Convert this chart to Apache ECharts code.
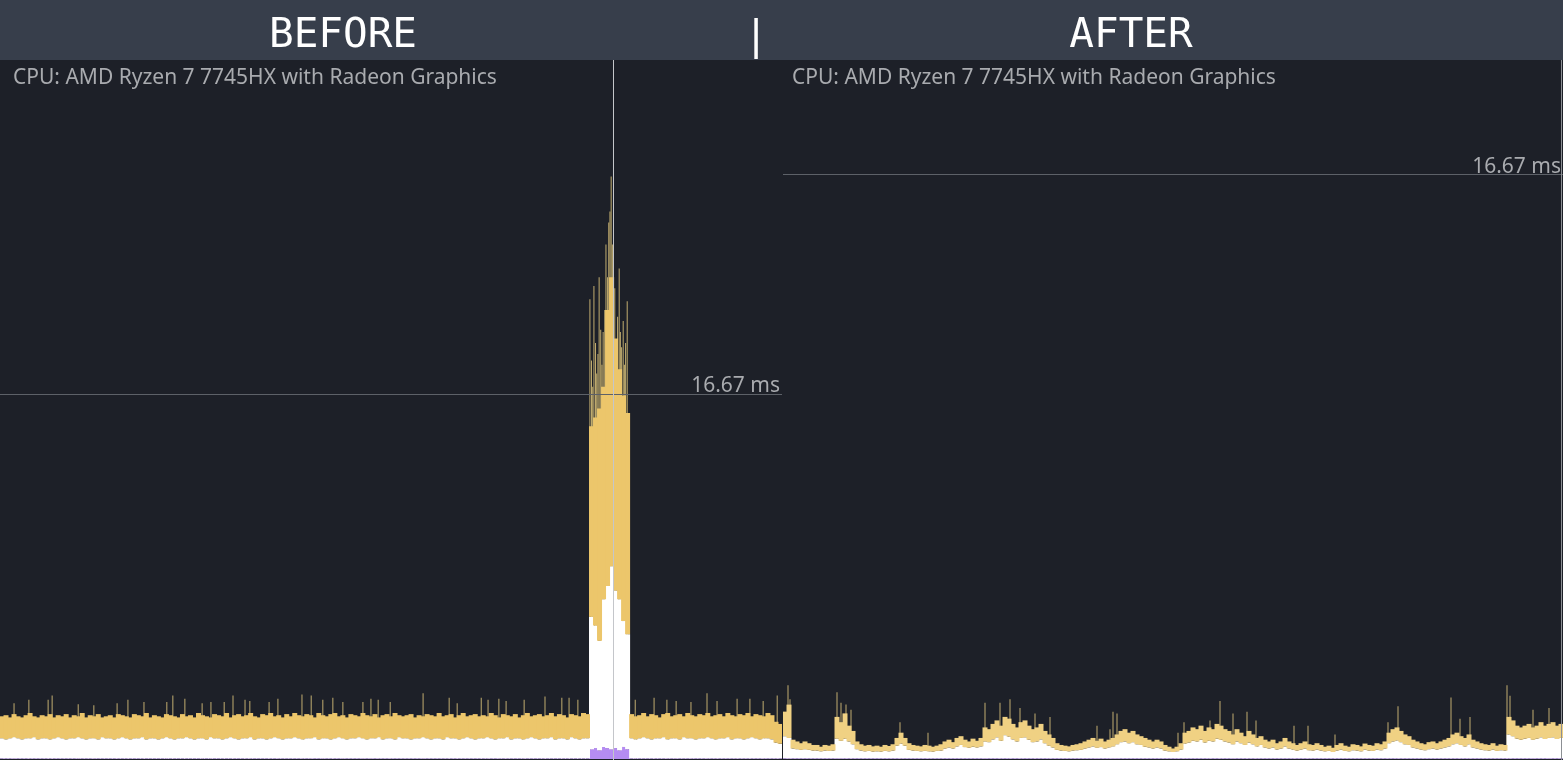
<!DOCTYPE html>
<html><head><meta charset="utf-8">
<script src="https://cdn.jsdelivr.net/npm/echarts@6/dist/echarts.min.js"></script>
<style>html,body{margin:0;padding:0;background:#1d2028;overflow:hidden}#c{width:1563px;height:760px;}</style>
</head><body><div id="c"></div>
<script>
// ---- text ----
const headerLabels = ['BEFORE', '|', 'AFTER'];
const cpuLabel = 'CPU: AMD Ryzen 7 7745HX with Radeon Graphics';
const targetMs = 16.67;
const targetLabel = '16.67 ms';

// ---- BEFORE panel (ms, layer tops per frame bucket) ----
const leftPurpleTop = [
0.03,0.03,0.03,0.03,0.03,0.03,0.03,0.03,0.03,0.03,0.03,0.03,0.03,0.03,0.03,
0.03,0.03,0.03,0.03,0.03,0.03,0.03,0.03,0.03,0.03,0.03,0.03,0.03,0.03,0.03,
0.03,0.03,0.03,0.03,0.03,0.03,0.03,0.03,0.03,0.03,0.03,0.03,0.03,0.03,0.03,
0.03,0.03,0.03,0.03,0.03,0.03,0.03,0.03,0.03,0.03,0.03,0.03,0.03,0.03,0.03,
0.03,0.03,0.03,0.03,0.03,0.03,0.03,0.03,0.03,0.03,0.03,0.03,0.03,0.03,0.03,
0.03,0.03,0.03,0.03,0.03,0.03,0.03,0.03,0.03,0.03,0.03,0.03,0.03,0.03,0.03,
0.03,0.03,0.03,0.03,0.03,0.03,0.03,0.03,0.03,0.03,0.03,0.03,0.03,0.03,0.03,
0.03,0.03,0.03,0.03,0.03,0.03,0.03,0.03,0.03,0.03,0.03,0.03,0.03,0.03,0.03,
0.03,0.03,0.03,0.03,0.03,0.03,0.03,0.03,0.03,0.03,0.03,0.03,0.03,0.03,0.03,
0.03,0.03,0.03,0.03,0.03,0.03,0.03,0.03,0.03,0.03,0.03,0.03,
0.45,0.5,0.4,0.55,0.5,0.45,0.5,0.4,0.55,0.45,
0.03,0.03,0.03,0.03,0.03,0.03,0.03,0.03,0.03,0.03,0.03,0.03,0.03,0.03,0.03,
0.03,0.03,0.03,0.03,0.03,0.03,0.03,0.03,0.03,0.03,0.03,0.03,0.03,0.03,0.03,
0.03,0.03,0.03,0.03,0.03,0.03,0.03,0.03
];
const leftWhiteTop = [
0.95,0.9,0.95,1.0,0.95,0.9,0.95,0.95,1.0,0.9,0.95,0.95,0.9,0.95,1.0,
0.95,0.9,0.95,0.95,1.0,0.95,0.9,0.95,0.95,0.9,1.0,0.95,0.95,0.9,0.95,
1.0,0.95,0.9,0.95,0.95,1.0,0.9,0.95,0.95,0.9,0.95,1.0,0.95,0.9,0.95,
0.95,1.0,0.95,0.9,0.95,0.95,0.9,1.0,0.95,0.95,0.9,0.95,1.0,0.95,0.9,
0.95,0.95,1.0,0.9,0.95,0.95,0.9,0.95,1.0,0.95,0.9,0.95,0.95,1.0,0.95,
0.9,0.95,0.95,1.0,0.9,0.95,0.95,0.9,0.95,1.0,0.95,0.9,0.95,0.95,1.0,
0.95,0.9,0.95,0.95,1.0,0.9,0.95,0.95,0.9,1.0,0.95,0.95,0.9,0.95,0.95,
1.0,0.95,0.9,0.95,0.95,0.9,1.0,0.95,0.95,0.9,0.95,1.0,0.95,0.9,0.95,
0.95,1.0,0.95,0.9,0.95,0.95,1.0,0.9,0.95,0.95,0.9,0.95,1.0,0.95,0.9,
0.95,0.95,1.0,0.9,0.95,0.95,0.9,1.0,0.95,0.9,0.95,0.95,
6.5,6.1,5.4,7.3,7.9,8.8,7.7,7.3,6.3,5.7,
0.95,0.9,0.95,1.0,0.95,0.9,0.95,0.95,1.0,0.9,0.95,0.95,0.9,1.0,0.95,
0.95,0.9,0.95,0.95,1.0,0.95,0.9,0.95,0.95,1.0,0.9,0.95,0.95,0.9,0.95,
1.0,0.95,0.9,0.95,0.95,0.9,0.75,0.7
];
const leftYellowTop = [
1.95,2.0,1.9,2.05,1.95,1.9,2.0,2.1,1.95,1.9,2.0,1.95,2.05,1.9,2.0,
1.95,2.05,1.9,2.0,1.95,2.1,1.9,2.0,1.95,2.05,1.9,1.95,2.0,1.9,2.05,
2.0,1.95,1.9,2.05,2.0,1.95,2.1,1.9,2.0,1.95,1.9,2.05,2.0,1.95,1.9,
2.05,1.95,2.0,1.9,2.1,2.0,1.95,1.9,2.05,2.0,1.95,2.1,1.9,2.0,2.05,
1.95,2.0,2.1,1.95,1.9,2.05,2.0,2.1,1.95,2.0,1.9,2.05,1.95,2.1,2.0,
1.95,2.05,2.0,1.9,2.1,2.0,1.95,2.05,2.1,1.95,2.0,1.9,2.05,2.0,1.95,
2.1,2.0,1.95,2.05,1.9,2.0,2.05,1.95,2.1,2.0,1.95,2.0,2.05,1.9,2.0,
1.95,2.05,2.0,1.95,2.1,1.95,2.0,2.05,1.9,2.0,2.1,1.95,2.0,2.05,1.95,
2.0,1.95,2.1,2.0,1.9,2.05,2.0,1.95,2.05,1.9,2.0,2.1,1.95,2.0,2.05,
1.95,2.0,2.1,1.95,2.05,2.0,1.9,2.05,2.0,1.95,2.1,2.05,
15.2,15.6,16.0,17.0,20.5,22.0,19.2,17.8,16.6,15.8,
2.05,1.95,2.0,2.1,1.95,2.05,2.0,1.9,2.05,2.1,1.95,2.0,2.05,1.95,2.1,
2.0,1.95,2.05,2.0,2.1,1.95,2.0,2.05,1.95,2.1,2.0,1.95,2.05,2.0,2.1,
1.95,2.05,2.0,1.95,2.1,2.0,1.7,1.6
];
// isolated frame spikes: [bucket position, ms]
const leftSpikes = [
[3.5,2.55],[7.2,2.7],[12.0,2.7],[13.0,2.9],[19.5,2.5],[23.4,2.45],[29.2,2.55],[31.9,2.7],
[35.9,2.6],[41.6,2.6],[43.1,2.9],[46.1,2.75],[50.4,2.55],[52.6,2.6],[55.9,2.6],[58.1,2.9],
[61.1,2.7],[62.3,2.65],[67.1,2.6],[69.3,2.75],[75.3,2.95],[77.6,2.9],[80.5,2.7],[83.0,2.8],
[85.5,2.6],[90.5,2.6],[92.5,2.75],[94.3,2.7],[97.3,2.6],[105.5,3.0],[112.0,2.8],[114.0,2.55],
[120.0,2.8],[121.7,2.7],[124.4,2.75],[126.2,2.65],[130.7,2.7],[135.9,2.85],[140.1,2.8],[141.9,2.8],
[144.1,2.7],
[147.1,21.0],[147.5,18.2],[147.8,17.0],[148.1,21.6],[148.5,19.0],[148.8,17.6],[149.1,18.5],[149.4,22.0],
[149.8,19.6],[150.1,18.0],[150.4,19.5],[150.8,20.5],[151.1,23.5],[151.5,22.0],[151.8,24.5],[152.1,25.0],
[152.4,26.6],[152.7,23.5],[153.0,22.0],[153.3,21.5],[153.6,19.0],[154.0,20.2],[154.4,22.4],[154.7,19.5],
[155.0,18.8],[155.4,20.0],[155.7,18.0],[156.0,19.0],[156.4,20.9],
[158.4,2.7],[163.1,2.8],[166.3,2.7],[168.6,2.65],[172.3,2.6],
[176.3,3.0],[178.8,2.65],[183.8,2.75],[187.0,2.75],[190.3,2.65],[193.8,2.9]
];

// ---- AFTER panel ----
const rightPurpleTop = [
0.02,0.02,0.02,0.02,0.02,0.02,0.02,0.02,0.02,0.02,0.02,0.02,0.02,0.02,0.02,
0.02,0.02,0.02,0.02,0.02,0.02,0.02,0.02,0.02,0.02,0.02,0.02,0.02,0.02,0.02,
0.02,0.02,0.02,0.02,0.02,0.02,0.02,0.02,0.02,0.02,0.02,0.02,0.02,0.02,0.02,
0.02,0.02,0.02,0.02,0.02,0.02,0.02,0.02,0.02,0.02,0.02,0.02,0.02,0.02,0.02,
0.02,0.02,0.02,0.02,0.02,0.02,0.02,0.02,0.02,0.02,0.02,0.02,0.02,0.02,0.02,
0.02,0.02,0.02,0.02,0.02,0.02,0.02,0.02,0.02,0.02,0.02,0.02,0.02,0.02,0.02,
0.02,0.02,0.02,0.02,0.02,0.02,0.02,0.02,0.02,0.02,0.02,0.02,0.02,0.02,0.02,
0.02,0.02,0.02,0.02,0.02,0.02,0.02,0.02,0.02,0.02,0.02,0.02,0.02,0.02,0.02,
0.02,0.02,0.02,0.02,0.02,0.02,0.02,0.02,0.02,0.02,0.02,0.02,0.02,0.02,0.02,
0.02,0.02,0.02,0.02,0.02,0.02,0.02,0.02,0.02,0.02,0.02,0.02,0.02,0.02,0.02,
0.02,0.02,0.02,0.02,0.02,0.02,0.02,0.02,0.02,0.02,0.02,0.02,0.02,0.02,0.02,
0.02,0.02,0.02,0.02,0.02,0.02,0.02,0.02,0.02,0.02,0.02,0.02,0.02,0.02,0.02,
0.02,0.02,0.02,0.02,0.02,0.02,0.02,0.02,0.02,0.02,0.02,0.02,0.02,0.02,0.02
];
const rightWhiteTop = [
0.65,0.6,
0.3,0.28,0.26,0.28,0.26,0.24,
0.24,0.22,0.24,0.23,0.24,
0.58,0.52,0.58,0.5,0.42,
0.28,0.24,0.22,0.23,0.21,0.22,0.21,0.23,0.22,0.24,
0.38,0.44,0.38,
0.26,0.24,0.23,0.22,0.23,0.22,0.21,0.23,0.24,
0.3,0.33,0.3,0.36,0.4,0.34,0.32,0.35,0.33,0.36,
0.5,0.48,0.56,0.62,0.52,0.68,0.64,0.56,0.5,0.6,0.62,0.55,0.48,0.5,0.56,0.45,0.38,0.33,
0.26,0.24,0.23,0.22,0.24,0.25,0.26,
0.3,0.33,0.36,0.32,0.34,0.3,0.33,0.36,
0.42,0.48,0.5,0.45,0.48,0.42,0.4,
0.35,0.33,0.3,0.33,0.3,
0.24,0.22,0.2,0.22,0.27,
0.44,0.47,0.52,0.5,0.55,0.47,0.52,0.5,0.58,0.55,0.5,
0.47,0.42,0.5,0.45,0.4,0.47,0.42,0.36,0.4,0.33,
0.3,0.33,0.27,0.3,0.36,0.3,0.27,0.24,0.27,0.3,0.25,0.24,0.27,
0.24,0.22,0.23,0.2,0.24,0.27,0.23,0.22,0.25,0.24,0.22,0.27,0.24,0.23,0.27,0.25,0.3,
0.45,0.5,0.53,0.48,0.42,0.4,0.33,
0.3,0.27,0.25,0.28,0.3,0.27,0.3,0.33,
0.36,0.42,0.45,0.4,0.36,0.42,0.33,
0.3,0.27,0.25,0.24,0.27,0.23,0.25,0.24,
0.7,0.65,0.58,0.55,0.58,0.6,0.55,0.58,0.62,0.57,0.6,0.62,0.57,0.6
];
const rightYellowTop = [
1.35,1.55,
0.55,0.5,0.45,0.5,0.45,0.4,
0.4,0.35,0.4,0.38,0.42,
1.2,1.05,1.3,0.95,0.8,
0.5,0.42,0.38,0.4,0.36,0.38,0.35,0.4,0.37,0.42,
0.6,0.75,0.6,
0.45,0.4,0.38,0.36,0.4,0.38,0.35,0.38,0.42,
0.5,0.55,0.48,0.6,0.65,0.55,0.5,0.58,0.52,0.6,
0.9,0.85,1.0,1.1,0.95,1.2,1.15,1.0,0.9,1.05,1.1,0.95,0.85,0.9,1.0,0.8,0.7,0.6,
0.45,0.4,0.38,0.36,0.4,0.42,0.45,
0.5,0.55,0.6,0.52,0.58,0.5,0.55,0.6,
0.7,0.8,0.85,0.75,0.8,0.7,0.65,
0.6,0.55,0.5,0.55,0.5,
0.4,0.35,0.3,0.35,0.45,
0.75,0.8,0.9,0.85,0.95,0.8,0.9,0.85,1.0,0.95,0.85,
0.8,0.7,0.85,0.75,0.65,0.8,0.7,0.6,0.65,0.55,
0.5,0.55,0.45,0.5,0.6,0.5,0.45,0.4,0.45,0.5,0.42,0.4,0.45,
0.4,0.35,0.38,0.32,0.4,0.45,0.38,0.35,0.42,0.4,0.36,0.44,0.4,0.38,0.45,0.42,0.5,
0.75,0.85,0.9,0.8,0.7,0.65,0.55,
0.5,0.45,0.42,0.48,0.5,0.45,0.5,0.55,
0.6,0.7,0.75,0.65,0.6,0.7,0.55,
0.5,0.45,0.42,0.4,0.45,0.38,0.42,0.4,
1.2,1.1,0.95,0.9,0.95,1.0,0.9,0.95,1.05,0.95,1.0,1.05,0.95,1.0
];
const rightSpikes = [
[1.25,2.1],[1.75,1.7],[13.5,1.9],[14.5,1.6],[15.75,1.55],[17,1.4],[29.25,1.05],[36.25,0.75],
[50.5,1.6],[54.25,1.6],[56.75,1.7],[59.25,1.45],[63,1.3],[66.75,1.2],[78.5,0.95],[81.75,0.85],
[82.5,1.35],[83.5,1.3],[98.75,0.75],[100.25,1.05],[106.75,1.1],[109.25,1.65],[112.5,1.3],[116,1.35],
[118.25,1.1],[127.75,0.95],[131.25,0.95],[138,0.7],[151.25,1.05],[153.75,1.5],[167,1.75],[169.25,1.15],
[171.75,1.2],[181,2.1],[181.75,1.8],[187.5,1.4],[191.5,1.45]
];

// ---- chart ----
const COLORS = { header:'#373e4b', panel:'#1d2028', text:'#a9abaf', yellowL:'#ecc66b', yellowR:'#f0d183',
  white:'#ffffff', purple:'#b58cf2', spike:'#d4bc78', target:'#5d6168' };
const FONT = '"Noto Sans", "Open Sans", sans-serif';

function diff(top, base) { return top.map((v, i) => +(v - base[i]).toFixed(3)); }

function panelSeries(idx, purple, white, yellow, spikes, stackName, yellowColor) {
  const cats = yellow.map((_, i) => i);
  const common = { type:'bar', stack: stackName, xAxisIndex: idx*2, yAxisIndex: idx, barWidth: 5, z:2, silent:true };
  return {
    cats,
    series: [
      { type:'bar', name:'spikes', xAxisIndex: idx*2+1, yAxisIndex: idx, data: spikes, barWidth: 1,
        itemStyle:{ color: COLORS.spike, opacity: 0.9 }, z: 1, silent: true },
      Object.assign({}, common, { data: purple, itemStyle: { color: COLORS.purple } }),
      Object.assign({}, common, { data: diff(white, purple), itemStyle: { color: COLORS.white } }),
      Object.assign({}, common, { data: diff(yellow, white), itemStyle: { color: yellowColor },
        markLine: { symbol:'none', silent:true, animation:false,
          lineStyle:{ color: COLORS.target, width:1, type:'solid' },
          label:{ formatter: targetLabel, position:'insideEndTop', color: COLORS.text, fontSize:21, fontFamily: FONT, distance:[2,-3] },
          data:[{ yAxis: targetMs }] } })
    ]
  };
}

const L = panelSeries(0, leftPurpleTop, leftWhiteTop, leftYellowTop, leftSpikes, 'L', COLORS.yellowL);
const R = panelSeries(1, rightPurpleTop, rightWhiteTop, rightYellowTop, rightSpikes, 'R', COLORS.yellowR);

const grids = [
  { left:0, top:60, width:782, height:699 },
  { left:783, top:60, width:780, height:699 }
];
const xAxes = [
  { type:'category', gridIndex:0, data:L.cats, show:false, boundaryGap:true },
  { type:'value', gridIndex:0, min:0, max:L.cats.length, show:false },
  { type:'category', gridIndex:1, data:R.cats, show:false, boundaryGap:true },
  { type:'value', gridIndex:1, min:0, max:R.cats.length, show:false }
];
const yAxes = [
  { type:'value', gridIndex:0, min:0, max: +(targetMs*699/365).toFixed(2), show:false, splitLine:{show:false} },
  { type:'value', gridIndex:1, min:0, max: +(targetMs*699/585).toFixed(2), show:false, splitLine:{show:false} }
];

const chart = echarts.init(document.getElementById('c'), null, { renderer:'canvas' });
chart.setOption({
  backgroundColor: COLORS.panel,
  animation:false,
  grid: grids, xAxis: xAxes, yAxis: yAxes,
  series: [...L.series, ...R.series],
  graphic: [
    { type:'rect', shape:{ x:0, y:0, width:1563, height:60 }, style:{ fill: COLORS.header }, z:0 },
    { type:'text', x:343, y:36, style:{ text: headerLabels[0], fill:'#ffffff', font:'41px "DejaVu Sans Mono", monospace', textAlign:'center', textVerticalAlign:'middle' }, z:10 },
    { type:'text', x:756, y:38, style:{ text: headerLabels[1], fill:'#ffffff', font:'41px "DejaVu Sans Mono", monospace', textAlign:'center', textVerticalAlign:'middle' }, z:10 },
    { type:'text', x:1131, y:36, style:{ text: headerLabels[2], fill:'#ffffff', font:'41px "DejaVu Sans Mono", monospace', textAlign:'center', textVerticalAlign:'middle' }, z:10 },
    { type:'text', x:13, y:78, style:{ text: cpuLabel, fill: COLORS.text, font:'21px ' + FONT, textAlign:'left', textVerticalAlign:'middle' }, z:10 },
    { type:'text', x:792, y:78, style:{ text: cpuLabel, fill: COLORS.text, font:'21px ' + FONT, textAlign:'left', textVerticalAlign:'middle' }, z:10 },
    { type:'line', shape:{ x1:613.5, y1:60, x2:613.5, y2:760 }, style:{ stroke:'#c4c6ca', lineWidth:1 }, z:10 },
    { type:'line', shape:{ x1:1561.5, y1:60, x2:1561.5, y2:760 }, style:{ stroke:'#8c8f94', lineWidth:1 }, z:10 }
  ]
});
</script>
</body></html>
